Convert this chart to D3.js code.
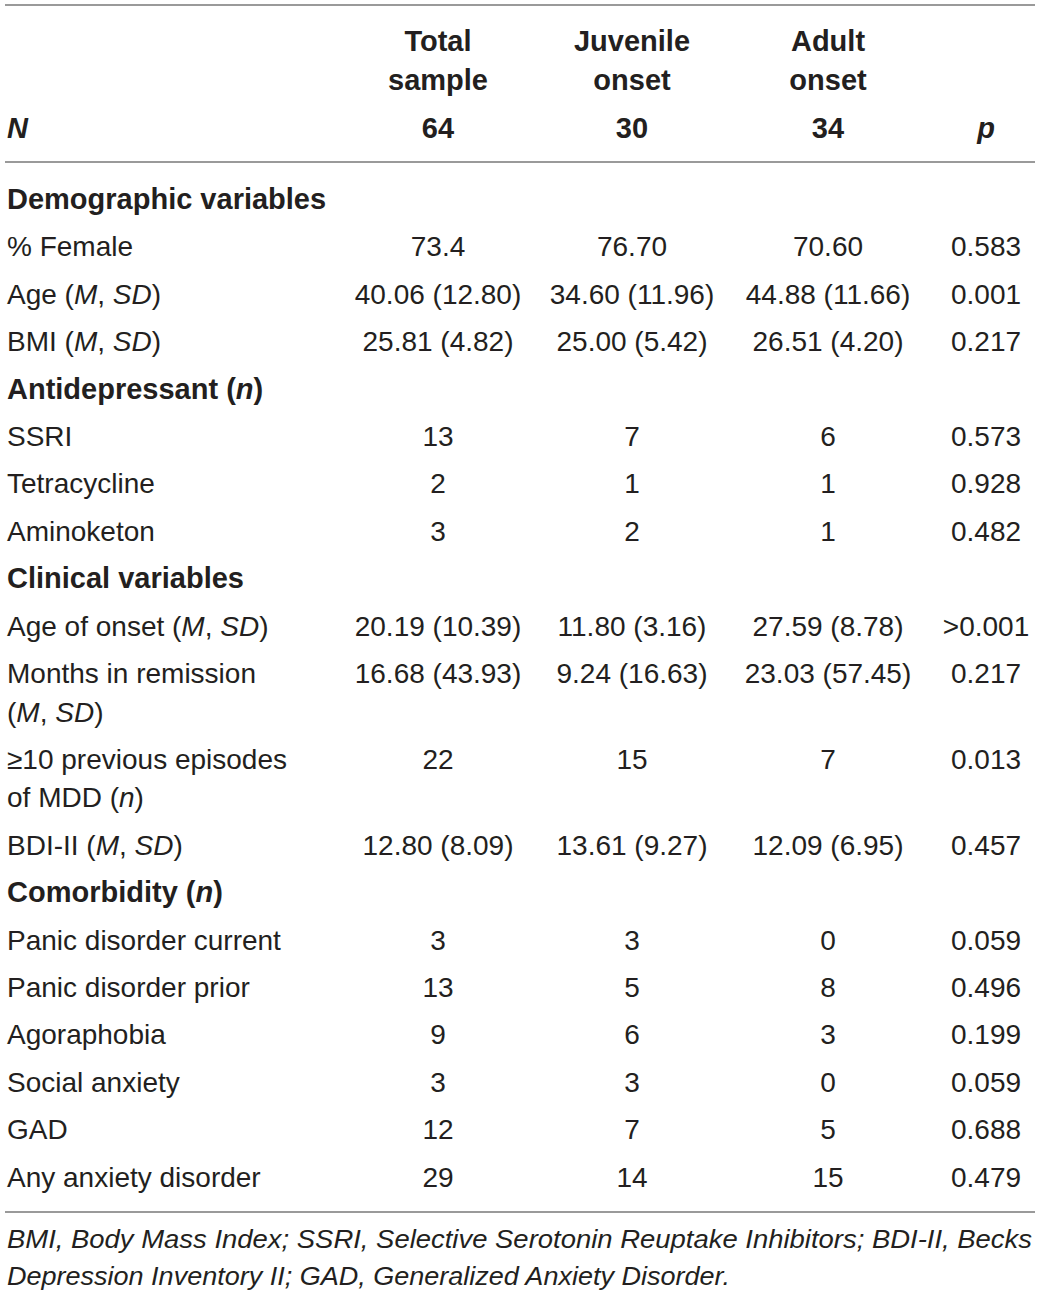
<!DOCTYPE html>
<html><head><meta charset="utf-8">
<script src="https://cdn.jsdelivr.net/npm/d3@7"></script>
<style>
html,body{margin:0;padding:0;background:#fff;}
svg text{font-family:"Liberation Sans",Arial,Helvetica,sans-serif;}
</style></head>
<body><svg id="chart" width="1040" height="1297"></svg>
<script>
// ---- data ----
const columns = ["Total sample", "Juvenile onset", "Adult onset", "p"];
const columnHeadLines = [["Total","sample"],["Juvenile","onset"],["Adult","onset"],[""]];
const nValues = ["64", "30", "34", "p"];
// row kind: "s" = section heading, "r" = data row; labels use *x* for italics
const rowKinds = ["s","r","r","r","s","r","r","r","s","r","r","r","r","s","r","r","r","r","r","r"];
const rowLabels = [
  ["Demographic variables"],
  ["% Female"],
  ["Age (*M*, *SD*)"],
  ["BMI (*M*, *SD*)"],
  ["Antidepressant (*n*)"],
  ["SSRI"],
  ["Tetracycline"],
  ["Aminoketon"],
  ["Clinical variables"],
  ["Age of onset (*M*, *SD*)"],
  ["Months in remission", "(*M*, *SD*)"],
  ["\u226510 previous episodes", "of MDD (*n*)"],
  ["BDI-II (*M*, *SD*)"],
  ["Comorbidity (*n*)"],
  ["Panic disorder current"],
  ["Panic disorder prior"],
  ["Agoraphobia"],
  ["Social anxiety"],
  ["GAD"],
  ["Any anxiety disorder"]
];
const totalValues = ["", "73.4", "40.06 (12.80)", "25.81 (4.82)", "", "13", "2", "3", "", "20.19 (10.39)", "16.68 (43.93)", "22", "12.80 (8.09)", "", "3", "13", "9", "3", "12", "29"];
const juvenileValues = ["", "76.70", "34.60 (11.96)", "25.00 (5.42)", "", "7", "1", "2", "", "11.80 (3.16)", "9.24 (16.63)", "15", "13.61 (9.27)", "", "3", "5", "6", "3", "7", "14"];
const adultValues = ["", "70.60", "44.88 (11.66)", "26.51 (4.20)", "", "6", "1", "1", "", "27.59 (8.78)", "23.03 (57.45)", "7", "12.09 (6.95)", "", "0", "8", "3", "0", "5", "15"];
const pValues = ["", "0.583", "0.001", "0.217", "", "0.573", "0.928", "0.482", "", ">0.001", "0.217", "0.013", "0.457", "", "0.059", "0.496", "0.199", "0.059", "0.688", "0.479"];
const footnoteLines = [
  "BMI, Body Mass Index; SSRI, Selective Serotonin Reuptake Inhibitors; BDI-II, Becks",
  "Depression Inventory II; GAD, Generalized Anxiety Disorder."
];

// ---- layout ----
const svg = d3.select("#chart");
const ink = "#231f20";
const rule = "#9a9a9a";
const fs = 28, fsb = 29;
const left = 7;

const colX = d3.scaleOrdinal().domain(columns).range([438, 632, 828, 986]);

// row slot positions (cumulative)
const rowPitch = 47.4, extraLine = 38.5;
let acc = 0;
const rowTop = rowLabels.map(l => { const t = acc; acc += rowPitch + (l.length - 1) * extraLine; return t; });
const yRow = d3.scaleLinear().domain([0, 1]).range([199, 200]); // first row centre at 199
const capOff = 10;

// rules
const rules = [5, 162, 1212];
svg.selectAll("line.rule").data(rules).join("line")
  .attr("class","rule").attr("x1",5).attr("x2",1035)
  .attr("y1",d=>d).attr("y2",d=>d)
  .attr("stroke",rule).attr("stroke-width",2);

function addRich(sel, str) {
  const parts = str.split("*");
  parts.forEach((p, i) => {
    if (!p) return;
    const ts = sel.append("tspan").text(p);
    if (i % 2 === 1) ts.attr("font-style","italic");
  });
}

// header
const headG = svg.append("g");
columns.forEach((c, i) => {
  columnHeadLines[i].forEach((line, j) => {
    if (!line) return;
    headG.append("text").attr("x", colX(c)).attr("y", 41 + j*39 + capOff)
      .attr("text-anchor","middle").attr("font-weight","bold").attr("font-size",fsb).attr("fill",ink)
      .text(line);
  });
  headG.append("text").attr("x", colX(c)).attr("y", 128 + capOff)
    .attr("text-anchor","middle").attr("font-weight","bold").attr("font-size",fsb).attr("fill",ink)
    .attr("font-style", c === "p" ? "italic" : null)
    .text(nValues[i]);
});
headG.append("text").attr("x", left).attr("y", 128 + capOff)
  .attr("font-weight","bold").attr("font-style","italic").attr("font-size",fsb).attr("fill",ink).text("N");

// body
const body = svg.append("g");
rowLabels.forEach((lines, r) => {
  const yc = yRow(rowTop[r]);
  const isSec = rowKinds[r] === "s";
  lines.forEach((line, j) => {
    const t = body.append("text").attr("x", left).attr("y", yc + j*extraLine + capOff)
      .attr("font-size", isSec ? fsb : fs).attr("fill", ink)
      .attr("font-weight", isSec ? "bold" : null);
    addRich(t, line);
  });
  const vals = [totalValues[r], juvenileValues[r], adultValues[r], pValues[r]];
  vals.forEach((v, i) => {
    if (!v) return;
    body.append("text").attr("x", colX(columns[i])).attr("y", yc + capOff)
      .attr("text-anchor","middle").attr("font-size", fs).attr("fill", ink).text(v);
  });
});

// footnote
const foot = svg.append("g");
footnoteLines.forEach((line, i) => {
  const t = foot.append("text").attr("x", left).attr("y", 1239 + i*37 + 9)
    .attr("font-size", 26).attr("font-style","italic").attr("fill", ink).text(line);
  t.attr("textLength", i === 0 ? 1025 : 723).attr("lengthAdjust","spacingAndGlyphs");
});
</script></body></html>
